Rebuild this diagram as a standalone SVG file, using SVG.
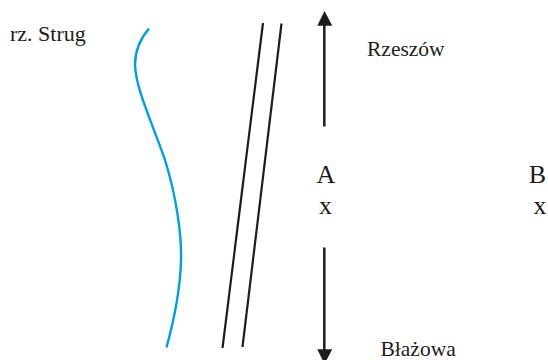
<svg xmlns="http://www.w3.org/2000/svg" width="548" height="360" viewBox="0 0 548 360">
<style>
text{font-family:"Liberation Serif","Times New Roman",serif;fill:#1d1d1b}
.s{font-size:21.5px}
.b{font-size:26px}
.l{fill:none;stroke:#1d1d1b;stroke-width:2.200}
.r{fill:none;stroke:#009fe3;stroke-width:2.400}
.h{fill:#1d1d1b}
.t{fill:none;stroke:#1d1d1b;stroke-width:2.500}
</style>
<g id="connectors">
<path class="r" d="M149 28.500C140 39 135 50 135 65C136 90 152 122 165 160C176 195 182 235 181 262C180 292 174 320 166.500 347.500"/>
<path class="l" d="M263 23L222.500 348"/>
<path class="l" d="M281.500 23.500L242.500 347"/>
<path class="t" d="M324.300 126.500V25"/>
<path class="h" d="M317.300 25.700L324.500 11L332.300 25.700Z"/>
<path class="t" d="M324.300 247.500V350"/>
<path class="h" d="M317.300 349.300L324.500 364L332.300 349.300Z"/>
</g>
<g id="label-river"><text class="s" x="10" y="41" style="font-size:22px">rz. Strug</text></g>
<g id="label-rzeszow"><text class="s" x="367" y="56">Rzeszów</text></g>
<g id="label-blazowa"><text class="s" x="380.500" y="355.500">Błażowa</text></g>
<g id="node-a"><text class="b" x="326" y="183" text-anchor="middle">A</text><text class="b" x="325.500" y="213.500" text-anchor="middle">x</text></g>
<g id="node-b"><text class="b" x="537.500" y="183" text-anchor="middle">B</text><text class="b" x="540" y="213.500" text-anchor="middle">x</text></g>
</svg>
